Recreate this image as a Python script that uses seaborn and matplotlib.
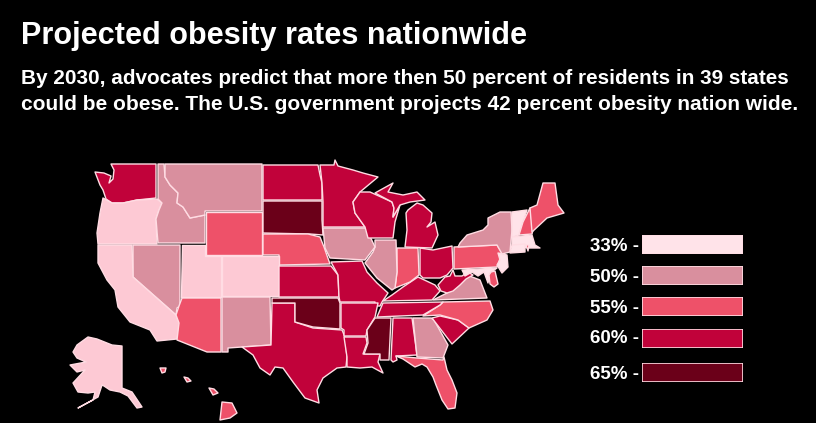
import matplotlib
matplotlib.use('Agg')
import matplotlib.pyplot as plt
import seaborn as sns

# legend classes
legend_labels = ['33%', '50%', '55%', '60%', '65%']
legend_colors = ['#FFE3E9', '#D98F9E', '#EE5169', '#C1023A', '#6B0019']

# states per class
rate_33 = ['OR', 'CA', 'UT', 'CO', 'AK', 'VT', 'MA', 'CT', 'NJ', 'MD']
rate_50 = ['MT', 'ID', 'NV', 'NM', 'IA', 'IL', 'GA', 'VA', 'NY']
rate_55 = ['WY', 'NE', 'AZ', 'IN', 'PA', 'NC', 'FL', 'ME', 'NH', 'HI', 'DE', 'RI']
rate_60 = ['WA', 'ND', 'MN', 'WI', 'MI', 'KS', 'MO', 'AR', 'TX', 'LA', 'AL', 'TN', 'KY', 'WV', 'OH', 'SC']
rate_65 = ['SD', 'OK', 'MS']
# western states show a deeper tint of the 33% class in the picture
tinted = ['OR', 'CA', 'UT', 'CO', 'AK']

# state outlines (pixels)
outlines = {
    'WA': [(95,172),(104,173),(111,176),(109,183),(113,179),(114,170),(111,164),(156,164),(156,198),(137,200),(123,203),(112,203),(106,199),(103,190),(100,185)],
    'OR': [(103,198),(112,203),(123,203),(137,200),(157,199),(162,203),(159,210),(156,219),(157,244),(98,244),(97,233),(100,213)],
    'ID': [(158,164),(164,164),(165,177),(170,185),(178,193),(177,203),(183,207),(190,218),(205,215),(205,243),(158,243),(156,219),(159,210),(162,203),(158,199)],
    'MT': [(165,164),(262,164),(262,211),(205,211),(205,215),(190,218),(183,207),(177,203),(178,193),(170,185),(165,177)],
    'WY': [(206,212),(262,212),(262,255),(206,255)],
    'ND': [(263,165),(318,165),(320,175),(322,183),(322,200),(263,200)],
    'SD': [(263,201),(322,201),(322,220),(323,235),(310,234),(263,233)],
    'NE': [(263,234),(308,234),(320,237),(324,247),(330,264),(279,265),(279,255),(263,255)],
    'NV': [(133,245),(180,245),(180,306),(177,308),(176,315),(133,277)],
    'UT': [(182,245),(205,245),(205,256),(221,256),(221,297),(181,297)],
    'CO': [(222,256),(279,256),(279,296),(222,296)],
    'CA': [(98,245),(132,245),(133,277),(176,315),(180,323),(177,339),(157,341),(150,330),(130,322),(118,307),(115,290),(107,280),(98,263)],
    'AZ': [(182,298),(221,298),(221,352),(207,352),(177,340),(179,323),(176,315),(179,306)],
    'NM': [(222,297),(270,297),(271,345),(242,347),(228,348),(228,352),(222,352)],
    'TX': [(272,303),(295,303),(295,322),(313,328),(342,330),(345,337),(347,357),(346,367),(337,368),(323,378),(317,390),(319,403),(305,398),(293,382),(283,368),(275,367),(270,375),(260,368),(253,355),(242,347),(271,345)],
    'OK': [(272,298),(338,298),(340,303),(340,329),(313,327),(295,322),(295,303),(272,303)],
    'KS': [(279,266),(331,266),(338,275),(339,297),(279,297)],
    'MO': [(331,262),(362,261),(367,272),(377,283),(388,293),(382,302),(380,306),(375,306),(375,302),(340,302),(339,297),(338,275)],
    'AR': [(341,303),(378,303),(375,317),(367,330),(366,336),(344,336),(344,330),(341,328)],
    'LA': [(344,337),(366,337),(367,343),(363,354),(380,354),(378,362),(383,373),(372,367),(360,368),(347,367),(347,357)],
    'MS': [(375,318),(391,318),(389,360),(380,360),(380,354),(364,354),(368,343),(367,330)],
    'AL': [(393,318),(412,318),(417,355),(396,356),(397,360),(393,362),(391,360)],
    'GA': [(413,318),(431,318),(434,320),(448,345),(443,358),(417,357)],
    'FL': [(396,356),(417,358),(443,360),(444,357),(447,370),(452,380),(457,393),(455,408),(448,409),(442,400),(436,385),(433,377),(427,367),(422,364),(415,367),(403,359)],
    'SC': [(432,318),(440,316),(458,320),(469,328),(452,344)],
    'NC': [(423,316),(440,305),(443,302),(490,301),(493,310),(487,320),(469,328),(458,320),(440,315)],
    'TN': [(377,317),(383,303),(443,302),(440,305),(423,315)],
    'KY': [(383,301),(392,295),(403,287),(418,277),(435,285),(440,291),(432,300)],
    'VA': [(433,300),(447,293),(467,275),(480,280),(487,298)],
    'WV': [(438,285),(445,277),(450,276),(453,270),(455,276),(462,276),(468,272),(473,275),(466,279),(460,285),(453,291),(447,293),(441,291)],
    'OH': [(420,248),(433,250),(452,246),(453,268),(447,275),(440,278),(423,278),(420,275)],
    'IN': [(397,248),(418,248),(419,275),(410,282),(395,288),(397,272)],
    'IL': [(375,240),(396,240),(397,272),(395,288),(392,290),(377,278),(365,263),(373,252),(375,247)],
    'IA': [(323,228),(366,228),(375,247),(365,260),(330,258),(325,248)],
    'MN': [(320,165),(334,165),(335,160),(338,166),(353,170),(363,173),(378,177),(360,192),(353,202),(355,213),(365,227),(323,227),(323,202),(322,183)],
    'WI': [(360,192),(370,192),(392,202),(394,208),(393,217),(400,205),(395,222),(393,238),(368,238),(365,227),(355,213),(353,202)],
    'MI_upper': [(375,193),(393,183),(388,192),(403,195),(417,192),(425,200),(410,202),(400,205),(393,217),(394,208),(392,202)],
    'MI_lower': [(405,247),(407,230),(406,213),(408,210),(417,203),(423,205),(432,213),(431,222),(427,227),(435,222),(438,235),(432,248)],
    'PA': [(454,247),(497,245),(502,253),(497,267),(454,269)],
    'NY': [(460,243),(467,235),(483,230),(488,225),(488,218),(500,212),(511,212),(512,230),(510,252),(502,254),(497,245),(458,247)],
    'VT': [(512,212),(527,210),(523,222),(519,235),(512,237)],
    'NH': [(530,208),(533,230),(532,234),(519,235),(523,222)],
    'ME': [(532,232),(530,208),(537,205),(543,183),(555,183),(558,205),(564,213),(547,218)],
    'MA': [(512,237),(532,235),(535,245),(540,248),(528,248),(512,245)],
    'CT': [(512,245),(525,244),(525,252),(510,253)],
    'RI': [(526,245),(529,245),(528,251)],
    'NJ': [(498,253),(507,255),(508,267),(502,273),(497,265),(500,260)],
    'MD': [(462,270),(497,268),(490,273),(488,283),(484,272),(478,276),(472,272),(465,276)],
    'DE': [(491,272),(495,271),(498,284),(494,287),(490,284),(489,275)],
    'AK': [(88,337),(97,339),(112,345),(122,346),(122,388),(132,392),(142,407),(137,408),(128,396),(120,392),(110,390),(104,386),(102,385),(98,397),(78,408),(93,400),(95,392),(88,393),(78,392),(73,383),(85,370),(77,372),(70,365),(86,362),(77,358),(73,352),(77,345)],
    'HI_kauai': [(160,368),(166,368),(165,372),(162,373)],
    'HI_oahu': [(184,377),(188,378),(191,381),(187,382)],
    'HI_maui': [(209,388),(214,389),(218,393),(213,395)],
    'HI_big': [(222,402),(232,403),(237,413),(230,418),(220,420)],
}

title = 'Projected obesity rates nationwide'
subtitle = ['By 2030, advocates predict that more then 50 percent of residents in 39 states',
            'could be obese. The U.S. government projects 42 percent obesity nation wide.']

sns.set_theme(style='white', rc={'figure.facecolor': 'black', 'axes.facecolor': 'black'})
plt.rcParams['font.family'] = ['Liberation Sans', 'DejaVu Sans']

W, H = 816, 423
fig = plt.figure(figsize=(W / 100, H / 100), dpi=100)
ax = fig.add_axes([0, 0, 1, 1])
ax.set_xlim(0, W)
ax.set_ylim(H, 0)
ax.axis('off')

groups = [rate_33, rate_50, rate_55, rate_60, rate_65]
fill_of = {}
for states, color in zip(groups, legend_colors):
    for st in states:
        fill_of[st] = color
for st in tinted:
    fill_of[st] = '#FDC9D4'

for name, pts in outlines.items():
    st = name.split('_')[0]
    xs, ys = zip(*pts)
    ax.fill(xs, ys, facecolor=fill_of[st], edgecolor='#FFDCE3', linewidth=1.0, joinstyle='round')

ax.text(21, 44, title, color='white', fontsize=22.1, fontweight='bold', va='baseline')
ax.text(21, 84, subtitle[0], color='white', fontsize=14.96, fontweight='bold', va='baseline')
ax.text(21, 109.5, subtitle[1], color='white', fontsize=15, fontweight='bold', va='baseline')

# legend swatches, one small seaborn bar per row
swatch_top = [235, 266, 297, 329, 363]
label_base = [251, 282, 313, 343, 379]
for label, color, top, base in zip(legend_labels, legend_colors, swatch_top, label_base):
    lax = fig.add_axes([642 / W, 1 - (top + 19) / H, 101 / W, 19 / H])
    sns.barplot(x=[1], y=[label], color=color, width=1, saturation=1, ax=lax,
                edgecolor='#FFDCE3', linewidth=1.2)
    lax.set_xlim(0, 1)
    lax.set_ylim(0.5, -0.5)
    lax.axis('off')
    ax.text(590, base, label + ' -', color='white', fontsize=13.5, fontweight='bold', va='baseline')

fig.savefig('out.png', dpi=100, facecolor='black')
